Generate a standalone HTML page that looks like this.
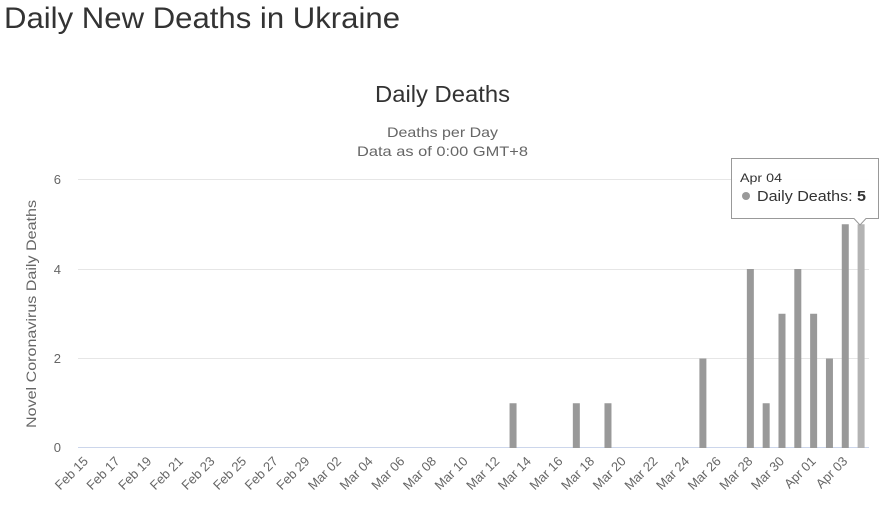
<!DOCTYPE html>
<html><head><meta charset="utf-8"><style>
html,body{margin:0;padding:0;background:#fff;width:887px;height:507px;overflow:hidden}
svg{display:block;font-family:"Liberation Sans",sans-serif}
</style></head><body>
<svg width="887" height="507" xmlns="http://www.w3.org/2000/svg">
<text x="4" y="28" font-size="30" fill="#333" textLength="396" lengthAdjust="spacingAndGlyphs">Daily New Deaths in Ukraine</text>
<text x="375" y="102" font-size="23" fill="#333" textLength="135" lengthAdjust="spacingAndGlyphs">Daily Deaths</text>
<text x="387" y="137" font-size="14" fill="#666" textLength="111" lengthAdjust="spacingAndGlyphs">Deaths per Day</text>
<text x="357" y="156" font-size="14" fill="#666" textLength="171" lengthAdjust="spacingAndGlyphs">Data as of 0:00 GMT+8</text>
<g stroke="#e6e6e6" stroke-width="1">
<line x1="78" x2="869" y1="179.5" y2="179.5"/>
<line x1="78" x2="869" y1="269.5" y2="269.5"/>
<line x1="78" x2="869" y1="358.5" y2="358.5"/>
</g>
<line x1="78" x2="869" y1="447.5" y2="447.5" stroke="#ccd6eb"/>
<g font-size="13" fill="#666" text-anchor="end">
<text x="61" y="184">6</text><text x="61" y="274">4</text><text x="61" y="363">2</text><text x="61" y="452">0</text>
</g>
<text transform="translate(36 428) rotate(-90)" font-size="14" fill="#666" textLength="228" lengthAdjust="spacingAndGlyphs">Novel Coronavirus Daily Deaths</text>
<g id="bars"></g>
<g id="labels" font-size="13" fill="#666" text-anchor="end"></g>
<path d="M731.5 158.5 H878.5 V218.5 H866 L860 225 L854 218.5 H731.5 Z" fill="#fff" fill-opacity="0.95" stroke="#999" stroke-width="1"/>
<text x="740" y="182" font-size="12" fill="#333" textLength="42" lengthAdjust="spacingAndGlyphs">Apr 04</text>
<circle cx="746" cy="196" r="4" fill="#999"/>
<text x="757" y="201" font-size="15" fill="#333" textLength="109" lengthAdjust="spacingAndGlyphs">Daily Deaths: <tspan font-weight="bold">5</tspan></text>
</svg>
<script>
var ns="http://www.w3.org/2000/svg";
var data={27:1,31:1,33:1,39:2,42:4,43:1,44:3,45:4,46:3,47:2,48:5,49:5};
var step=15.82,x0=78,base=448,u=44.75;
var b=document.getElementById("bars"),l=document.getElementById("labels");
for(var k in data){var i=+k,h=data[k]*u;var r=document.createElementNS(ns,"rect");
r.setAttribute("x",x0+i*step+step/2-3.5);r.setAttribute("width",7);r.setAttribute("y",base-h);r.setAttribute("height",h);
r.setAttribute("fill",i==49?"#b3b3b3":"#999");b.appendChild(r);}
for(var i=0;i<50;i+=2){var mon,d;if(i<15){mon="Feb";d=15+i}else if(i<46){mon="Mar";d=i-14}else{mon="Apr";d=i-45}
var t=document.createElementNS(ns,"text");var cx=x0+i*step+step/2+3,cy=462;
t.setAttribute("transform","translate("+cx+" "+cy+") rotate(-45)");t.textContent=mon+" "+(d<10?"0"+d:d);l.appendChild(t);}
</script>
</body></html>
